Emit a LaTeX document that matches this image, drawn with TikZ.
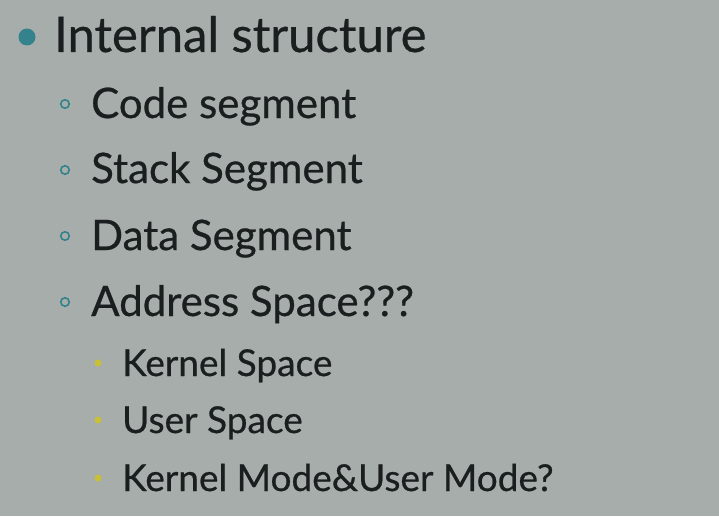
\documentclass[tikz,border=0pt]{standalone}
\usepackage{fontspec}
\setmainfont{Lato}[FakeBold=0.6]
\definecolor{slidebg}{RGB}{166,173,171}
\definecolor{slideink}{RGB}{26,30,30}
\definecolor{tealdot}{RGB}{52,130,140}
\definecolor{yellowdot}{RGB}{200,192,55}
\tikzset{
  lvlone/.style={anchor=base west,inner sep=0pt,text=slideink,font=\fontsize{49}{49}\selectfont},
  lvltwo/.style={anchor=base west,inner sep=0pt,text=slideink,font=\fontsize{42}{42}\selectfont},
  lvlthree/.style={anchor=base west,inner sep=0pt,text=slideink,font=\fontsize{37}{37}\selectfont},
  dotone/.style={circle,fill=tealdot,inner sep=0pt,minimum size=17pt},
  dottwo/.style={circle,draw=tealdot,line width=1.6pt,inner sep=0pt,minimum size=8.5pt},
  dotthree/.style={circle,fill=yellowdot,inner sep=0pt,minimum size=7pt}
}
\begin{document}
\begin{tikzpicture}[x=1pt,y=-1pt]
\fill[slidebg] (0,0) rectangle (719,516);
\useasboundingbox (0,0) rectangle (719,516);
% first level
\node[dotone] (b1) at (27,37) {};
\node[lvlone] (internal) at (54,52) {Internal structure};
% second level
\node[dottwo] (b2) at (65,104) {};
\node[lvltwo] (code) at (91,118) {Code segment};
\node[dottwo] (b3) at (65,170) {};
\node[lvltwo] (stack) at (91,183) {Stack Segment};
\node[dottwo] (b4) at (65,236) {};
\node[lvltwo] (data) at (91,250) {Data Segment};
\node[dottwo] (b5) at (65,302) {};
\node[lvltwo] (address) at (91,316) {Address Space???};
% third level
\node[dotthree] (b6) at (98,363) {};
\node[lvlthree] (kernel) at (122,376) {Kernel Space};
\node[dotthree] (b7) at (98,420) {};
\node[lvlthree] (user) at (122,433) {User Space};
\node[dotthree] (b8) at (98,478) {};
\node[lvlthree] (mode) at (122,491) {Kernel Mode\&User Mode?};
\end{tikzpicture}
\end{document}
